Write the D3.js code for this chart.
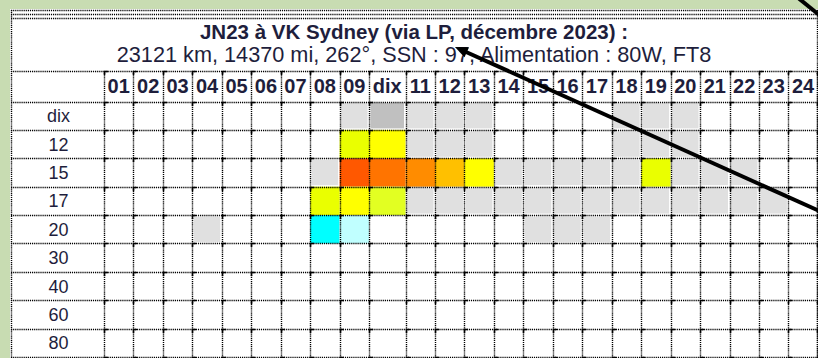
<!DOCTYPE html>
<html>
<head>
<meta charset="utf-8">
<script src="https://cdn.jsdelivr.net/npm/d3@7"></script>
<style>
  html, body { margin: 0; padding: 0; background: #c8dcb2; }
  svg { display: block; }
</style>
</head>
<body>
<svg id="chart" width="818" height="358"></svg>
<script>
// ---- Data -----------------------------------------------------------
const titleLine1 = "JN23 à VK Sydney (via LP, décembre 2023) :";
const titleLine2 = "23121 km, 14370 mi, 262°, SSN : 97, Alimentation : 80W, FT8";

const hours = ["01","02","03","04","05","06","07","08","09","dix",
               "11","12","13","14","15","16","17","18","19","20",
               "21","22","23","24"];
const bands = ["dix","12","15","17","20","30","40","60","80"];

// Opening level for each hour (01 … 24), one array per band
const band10 = [0,0,0,0,0,0,0,0,1,2,1,1,1,0,0,0,0,1,1,1,0,0,0,0];
const band12 = [0,0,0,0,0,0,0,0,5,6,1,1,1,0,0,0,0,1,1,1,0,0,0,0];
const band15 = [0,0,0,0,0,0,0,1,10,9,8,7,6,1,1,1,1,1,5,1,1,1,0,0];
const band17 = [0,0,0,0,0,0,0,5,6,11,1,1,1,1,1,1,1,1,1,1,1,1,1,0];
const band20 = [0,0,0,1,0,0,0,4,3,0,0,0,0,0,1,1,1,0,0,0,0,0,0,0];
const band30 = [0,0,0,0,0,0,0,0,0,0,0,0,0,0,0,0,0,0,0,0,0,0,0,0];
const band40 = [0,0,0,0,0,0,0,0,0,0,0,0,0,0,0,0,0,0,0,0,0,0,0,0];
const band60 = [0,0,0,0,0,0,0,0,0,0,0,0,0,0,0,0,0,0,0,0,0,0,0,0];
const band80 = [0,0,0,0,0,0,0,0,0,0,0,0,0,0,0,0,0,0,0,0,0,0,0,0];

const levels = [0,1,2,3,4,5,6,7,8,9,10,11];
const levelColors = ["#ffffff","#e0e0e0","#c0c0c0","#c0ffff","#00ffff",
                     "#eaff00","#ffff00","#ffc000","#ff8c00","#ff7400",
                     "#ff5800","#e2ff22"];

// ---- Layout ---------------------------------------------------------
const W = 818, H = 358;
const sheet = { x: 10, y: 9, right: 817 };
const labelColLeft = 11, gridLeft = 104;
const headerTop = 71, headerBottom = 101.5, gridBottom = 357;
const stdColW = 29.45, wideColW = 36.5;
const textColor = "#1e1e3c";
const font = "'Liberation Sans', Arial, sans-serif";

const rows = [band10, band12, band15, band17, band20, band30, band40, band60, band80];
const cells = [];
bands.forEach((b, r) => hours.forEach((h, c) => cells.push({ band: b, hour: h, level: rows[r][c] })));

const colWidth = h => (h === "dix" ? wideColW : stdColW);
const starts = [];
hours.reduce((acc, h) => { starts.push(acc); return acc + colWidth(h); }, gridLeft);
const x = d3.scaleOrdinal(hours, starts);
const y = d3.scaleBand(bands, [headerBottom, gridBottom]).padding(0);
const color = d3.scaleOrdinal(levels, levelColors);

const svg = d3.select("#chart");

svg.append("rect").attr("width", W).attr("height", H).attr("fill", "#c8dcb2");
svg.append("rect").attr("x", sheet.x).attr("y", sheet.y)
   .attr("width", W - sheet.x).attr("height", H - sheet.y).attr("fill", "#fff");

// ---- Cells ----------------------------------------------------------
const isGrey = l => l === 1 || l === 2;
svg.append("g").selectAll("rect")
  .data(cells.filter(d => d.level > 0))
  .join("rect")
  .attr("x", d => x(d.hour) + (isGrey(d.level) ? 1.5 : 0))
  .attr("y", d => y(d.band) + (isGrey(d.level) ? 1.5 : 0))
  .attr("width", d => colWidth(d.hour) - (isGrey(d.level) ? 3 : 0))
  .attr("height", d => y.bandwidth() - (isGrey(d.level) ? 3 : 0))
  .attr("fill", d => color(d.level));

// ---- Dotted grid ----------------------------------------------------
const grid = svg.append("g").attr("stroke", "#000").attr("stroke-width", 1.4)
  .attr("stroke-dasharray", "1.2,0.9");
const px = v => Math.round(v) + 0.5;

const hLines = [headerTop, headerBottom, ...bands.slice(1).map(b => y(b)), gridBottom];
const vLines = [gridLeft, ...hours.slice(1).map(h => x(h)), sheet.right];

// top border band
[10, 14, 18].forEach(v => grid.append("line")
  .attr("x1", labelColLeft).attr("x2", sheet.right + 1).attr("y1", px(v)).attr("y2", px(v)));

hLines.forEach(v => grid.append("line")
  .attr("x1", labelColLeft).attr("x2", sheet.right + 1).attr("y1", px(v)).attr("y2", px(v)));

grid.append("line").attr("x1", px(labelColLeft)).attr("x2", px(labelColLeft))
  .attr("y1", 10).attr("y2", H);
grid.append("line").attr("x1", px(sheet.right)).attr("x2", px(sheet.right))
  .attr("y1", 10).attr("y2", H);
vLines.forEach(v => grid.append("line")
  .attr("x1", px(v)).attr("x2", px(v)).attr("y1", headerTop).attr("y2", H));

// small solid corner ticks at each intersection
const corners = svg.append("g").attr("stroke", "#000").attr("stroke-width", 1.6)
  .attr("fill", "none");
vLines.forEach(vx => hLines.forEach(hy => {
  corners.append("path")
    .attr("d", `M${px(vx)},${px(hy) + 3.5}V${px(hy)}H${px(vx) + 3.5}`);
}));

// ---- Text -----------------------------------------------------------
const cx = (labelColLeft + sheet.right) / 2;
svg.append("text").attr("x", cx).attr("y", 39)
  .attr("text-anchor", "middle").attr("font-family", font)
  .attr("font-weight", "bold").attr("font-size", 20.5).attr("fill", textColor)
  .text(titleLine1);
const sub = svg.append("text").attr("x", cx).attr("y", 62)
  .attr("text-anchor", "middle").attr("font-family", font)
  .attr("font-size", 21.7).attr("fill", textColor)
  .text(titleLine2);

svg.append("g").selectAll("text").data(hours).join("text")
  .attr("x", h => x(h) + colWidth(h) / 2)
  .attr("y", (headerTop + headerBottom) / 2 + 7)
  .attr("text-anchor", "middle").attr("font-family", font)
  .attr("font-weight", "bold").attr("font-size", 20).attr("fill", textColor)
  .text(h => h);

svg.append("g").selectAll("text").data(bands).join("text")
  .attr("x", (labelColLeft + gridLeft) / 2 + 1)
  .attr("y", b => y(b) + y.bandwidth() / 2 + 6.5)
  .attr("text-anchor", "middle").attr("font-family", font)
  .attr("font-size", 18).attr("fill", textColor)
  .text(b => b);

// ---- Annotation arrows ----------------------------------------------
const ssnIdx = titleLine2.indexOf("97");
const p7 = sub.node().getStartPositionOfChar(ssnIdx + 1);
const tip = [p7.x - 2, 47];
const ang = Math.atan(0.45);
const dx = Math.cos(ang), dy = Math.sin(ang);
const len = 420, headL = 13, headW = 5.5;
const arrow = svg.append("g").attr("fill", "#000").attr("stroke", "#000");
arrow.append("line")
  .attr("x1", tip[0] + dx * (headL - 2)).attr("y1", tip[1] + dy * (headL - 2))
  .attr("x2", tip[0] + dx * len).attr("y2", tip[1] + dy * len)
  .attr("stroke-width", 4);
arrow.append("path").attr("stroke", "none")
  .attr("d", `M${tip[0]},${tip[1]}` +
    `L${tip[0] + dx * headL - dy * headW},${tip[1] + dy * headL + dx * headW}` +
    `L${tip[0] + dx * headL + dy * headW},${tip[1] + dy * headL - dx * headW}Z`);
arrow.append("line").attr("x1", 797).attr("y1", -3).attr("x2", 823).attr("y2", 18)
  .attr("stroke-width", 4);
</script>
</body>
</html>
